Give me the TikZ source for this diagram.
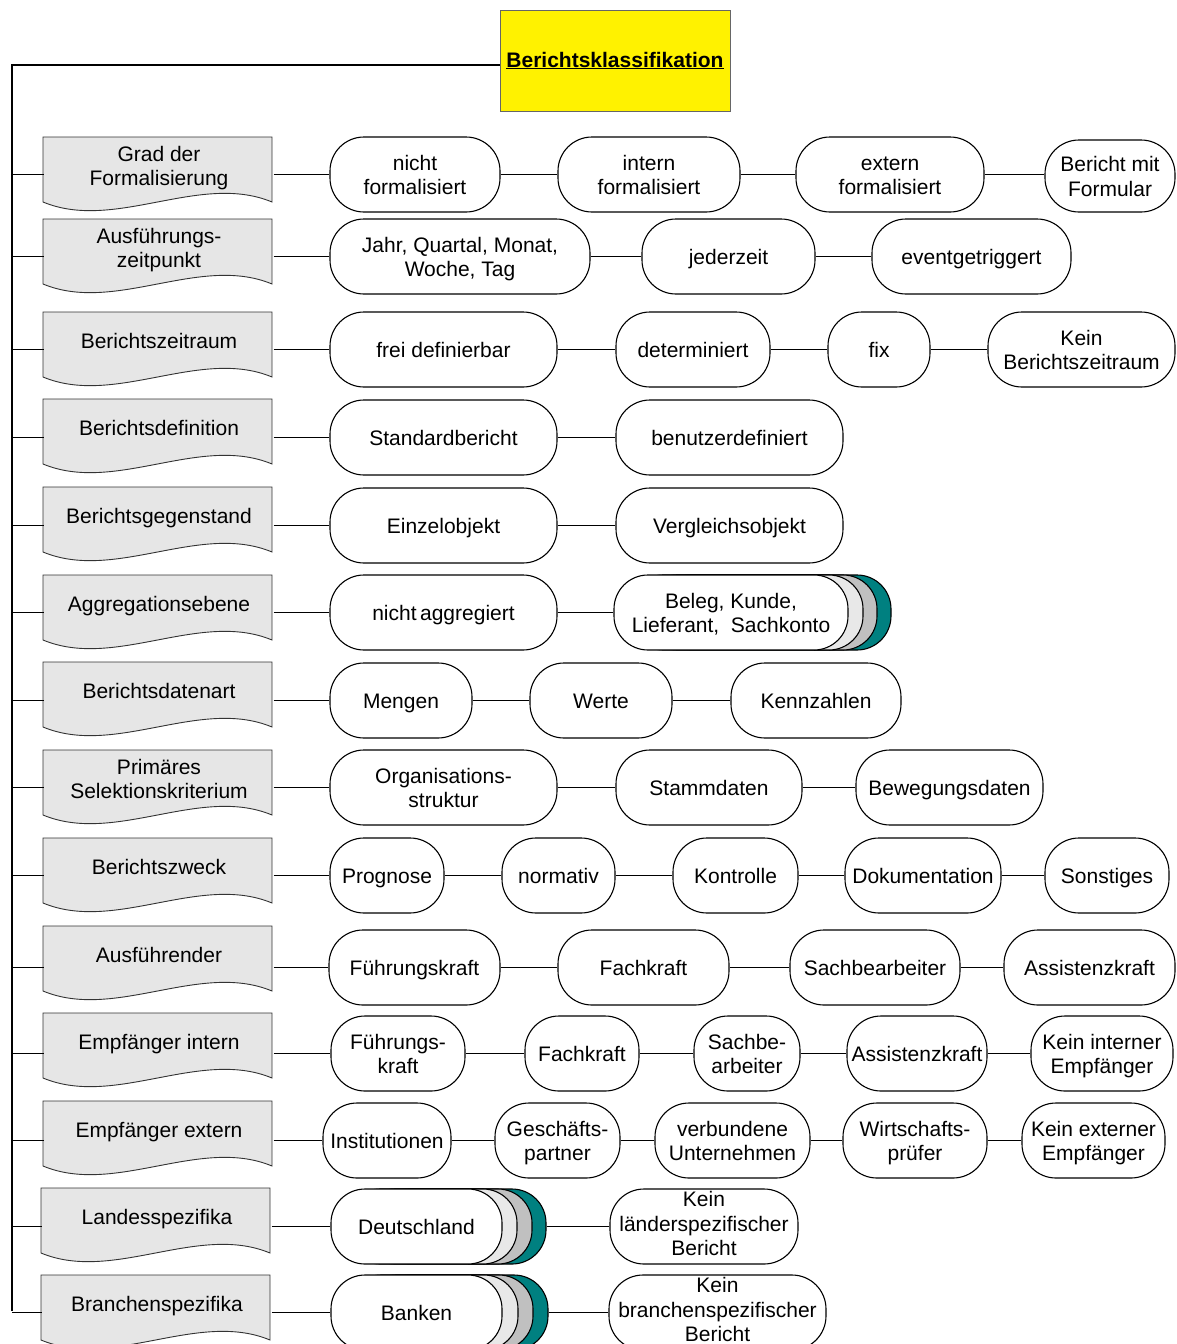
\documentclass[tikz,border=0pt]{standalone}
\usepackage{fontspec}
\setmainfont{Liberation Sans}
\definecolor{docgray}{RGB}{230,230,230}
\definecolor{lay1}{RGB}{232,232,232}
\definecolor{lay2}{RGB}{192,192,192}
\definecolor{lay3}{RGB}{0,128,128}
\tikzset{
  conn/.style={draw=black, line width=1.1pt},
  pill/.style={draw=black, fill=white, line width=1.1pt, rounded corners=34pt,
    minimum height=75pt, inner sep=0pt, align=center,
    font=\fontsize{21}{24.5}\selectfont},
  docstyle/.style={draw=black!80, fill=docgray, line width=0.9pt},
  doctext/.style={inner sep=0pt, minimum width=229pt, minimum height=56pt, align=center,
    font=\fontsize{21}{24.5}\selectfont},
  titlebox/.style={draw=black!60, fill=yellow, line width=0.9pt, minimum width=230pt,
    minimum height=101pt, inner sep=0pt, font=\fontsize{21}{24.5}\selectfont\bfseries}
}
\newcommand\topstrut{\rule[-7.35pt]{0pt}{30.5pt}}
\newcommand\mypill[5]{\node[pill, minimum width={#3-#2}] (#1) at ({(#2+#3)/2},#4) {\topstrut#5\strut};}
\newcommand\mytallpill[5]{\node[pill, minimum width={#3-#2}] (#1) at ({(#2+#3)/2},#4) {\strut#5\strut};}
\newcommand\mystack[8]{%
  \node[pill, fill=lay3, minimum width={#3-#2}] (#1-l3) at ({(#2+#3)/2+#7},#4) {};
  \node[pill, fill=lay2, minimum width={#3-#2}] (#1-l2) at ({(#2+#3)/2+#6},#4) {};
  \node[pill, fill=lay1, minimum width={#3-#2}] (#1-l1) at ({(#2+#3)/2+#5},#4) {};
  \node[pill, minimum width={#3-#2}] (#1) at ({(#2+#3)/2},#4) {\topstrut#8\strut};}
\newcommand\mydoc[4]{%
  \draw[docstyle] (#2,#3) -- ++(229,0) -- ++(0,65) .. controls +(-72,-30) and +(72,30) .. ({#2},{#3+65}) -- cycle;
  \node[doctext] (#1) at ({#2+116},{#3+31.5}) {\strut#4\strut};}
\begin{document}
\begin{tikzpicture}[x=1pt,y=-1pt]
\useasboundingbox (0,0) rectangle (1177,1344);
\node[titlebox] (title) at (615,60.5) {\raisebox{-2pt}{\underline{Berichtsklassifikation}}};
\coordinate (spinetop) at (12,65);
\coordinate (spinebot) at (12,1311);
\draw[conn] (spinetop -| title.west) -- (spinetop) -- (spinebot);

% Row 1
\mydoc{d1}{43}{137}{Grad der\\Formalisierung}
\mypill{r1a}{330}{500}{174.5}{nicht\\formalisiert}
\mypill{r1b}{558}{740}{174.5}{intern\\formalisiert}
\mypill{r1c}{796}{984}{174.5}{extern\\formalisiert}
\node[pill, minimum width=130pt, minimum height=72pt] (r1d) at (1110,176) {\topstrut Bericht mit\\Formular\strut};
\draw[conn] (spinetop |- r1a) -- (r1a -| d1.west);
\draw[conn] (d1.east |- r1a) -- (r1a);
\draw[conn] (r1a) -- (r1b);
\draw[conn] (r1b) -- (r1c);
\draw[conn] (r1c.east) -- (r1c.east -| r1d.west);

% Row 2
\mydoc{d2}{43}{219}{Ausführungs-\\zeitpunkt}
\mypill{r2a}{330}{590}{256.5}{Jahr, Quartal, Monat,\\Woche, Tag}
\mypill{r2b}{642}{815}{256.5}{jederzeit}
\mypill{r2c}{872}{1071}{256.5}{eventgetriggert}
\draw[conn] (spinetop |- r2a) -- (r2a -| d2.west);
\draw[conn] (d2.east |- r2a) -- (r2a);
\draw[conn] (r2a) -- (r2b);
\draw[conn] (r2b) -- (r2c);

% Row 3
\mydoc{d3}{43}{312}{Berichtszeitraum}
\mypill{r3a}{330}{557}{349.5}{frei definierbar}
\mypill{r3b}{616}{770}{349.5}{determiniert}
\mypill{r3c}{828}{930}{349.5}{fix}
\mypill{r3d}{988}{1175}{349.5}{Kein\\Berichtszeitraum}
\draw[conn] (spinetop |- r3a) -- (r3a -| d3.west);
\draw[conn] (d3.east |- r3a) -- (r3a);
\draw[conn] (r3a) -- (r3b);
\draw[conn] (r3b) -- (r3c);
\draw[conn] (r3c) -- (r3d);

% Row 4
\mydoc{d4}{43}{399}{Berichtsdefinition}
\mypill{r4a}{330}{557}{437.5}{Standardbericht}
\mypill{r4b}{616}{843}{437.5}{benutzerdefiniert}
\draw[conn] (spinetop |- r4a) -- (r4a -| d4.west);
\draw[conn] (d4.east |- r4a) -- (r4a);
\draw[conn] (r4a) -- (r4b);

% Row 5
\mydoc{d5}{43}{487}{Berichtsgegenstand}
\mypill{r5a}{330}{557}{525.5}{Einzelobjekt}
\mypill{r5b}{616}{843}{525.5}{Vergleichsobjekt}
\draw[conn] (spinetop |- r5a) -- (r5a -| d5.west);
\draw[conn] (d5.east |- r5a) -- (r5a);
\draw[conn] (r5a) -- (r5b);

% Row 6
\mydoc{d6}{43}{575}{Aggregationsebene}
\mypill{r6a}{330}{557}{612.5}{nicht\,aggregiert}
\mystack{r6b}{614}{848}{612.5}{15}{29}{43}{Beleg, Kunde,\\Lieferant,\ \ Sachkonto}
\draw[conn] (spinetop |- r6a) -- (r6a -| d6.west);
\draw[conn] (d6.east |- r6a) -- (r6a);
\draw[conn] (r6a) -- (r6b);

% Row 7
\mydoc{d7}{43}{662}{Berichtsdatenart}
\mypill{r7a}{330}{472}{700.5}{Mengen}
\mypill{r7b}{530}{672}{700.5}{Werte}
\mypill{r7c}{731}{901}{700.5}{Kennzahlen}
\draw[conn] (spinetop |- r7a) -- (r7a -| d7.west);
\draw[conn] (d7.east |- r7a) -- (r7a);
\draw[conn] (r7a) -- (r7b);
\draw[conn] (r7b) -- (r7c);

% Row 8
\mydoc{d8}{43}{750}{Primäres\\Selektionskriterium}
\mypill{r8a}{330}{557}{787.5}{Organisations-\\struktur}
\mypill{r8b}{616}{802}{787.5}{Stammdaten}
\mypill{r8c}{856}{1043}{787.5}{Bewegungsdaten}
\draw[conn] (spinetop |- r8a) -- (r8a -| d8.west);
\draw[conn] (d8.east |- r8a) -- (r8a);
\draw[conn] (r8a) -- (r8b);
\draw[conn] (r8b) -- (r8c);

% Row 9
\mydoc{d9}{43}{838}{Berichtszweck}
\mypill{r9a}{330}{444}{875.5}{Prognose}
\mypill{r9b}{502}{615}{875.5}{normativ}
\mypill{r9c}{673}{798}{875.5}{Kontrolle}
\mypill{r9d}{845}{1001}{875.5}{Dokumentation}
\mypill{r9e}{1045}{1169}{875.5}{Sonstiges}
\draw[conn] (spinetop |- r9a) -- (r9a -| d9.west);
\draw[conn] (d9.east |- r9a) -- (r9a);
\draw[conn] (r9a) -- (r9b);
\draw[conn] (r9b) -- (r9c);
\draw[conn] (r9c) -- (r9d);
\draw[conn] (r9d) -- (r9e);

% Row 10
\mydoc{d10}{43}{926}{Ausführender}
\mypill{r10a}{329}{500}{967.5}{Führungskraft}
\mypill{r10b}{558}{729}{967.5}{Fachkraft}
\mypill{r10c}{790}{960}{967.5}{Sachbearbeiter}
\mypill{r10d}{1004}{1175}{967.5}{Assistenzkraft}
\draw[conn] (spinetop |- r10a) -- (r10a -| d10.west);
\draw[conn] (d10.east |- r10a) -- (r10a);
\draw[conn] (r10a) -- (r10b);
\draw[conn] (r10b) -- (r10c);
\draw[conn] (r10c) -- (r10d);

% Row 11
\mydoc{d11}{43}{1013}{Empfänger intern}
\mypill{r11a}{331}{465}{1053.5}{Führungs-\\kraft}
\mypill{r11b}{525}{639}{1053.5}{Fachkraft}
\mypill{r11c}{694}{800}{1053.5}{Sachbe-\\arbeiter}
\mypill{r11d}{847}{987}{1053.5}{Assistenzkraft}
\mypill{r11e}{1031}{1173}{1053.5}{Kein interner\\Empfänger}
\draw[conn] (spinetop |- r11a) -- (r11a -| d11.west);
\draw[conn] (d11.east |- r11a) -- (r11a);
\draw[conn] (r11a) -- (r11b);
\draw[conn] (r11b) -- (r11c);
\draw[conn] (r11c) -- (r11d);
\draw[conn] (r11d) -- (r11e);

% Row 12
\mydoc{d12}{43}{1101}{Empfänger extern}
\mypill{r12a}{323}{451}{1140.5}{Institutionen}
\mypill{r12b}{495}{620}{1140.5}{Geschäfts-\\partner}
\mypill{r12c}{655}{810}{1140.5}{verbundene\\Unternehmen}
\mypill{r12d}{843}{987}{1140.5}{Wirtschafts-\\prüfer}
\mypill{r12e}{1022}{1165}{1140.5}{Kein externer\\Empfänger}
\draw[conn] (spinetop |- r12a) -- (r12a -| d12.west);
\draw[conn] (d12.east |- r12a) -- (r12a);
\draw[conn] (r12a) -- (r12b);
\draw[conn] (r12b) -- (r12c);
\draw[conn] (r12c) -- (r12d);
\draw[conn] (r12d) -- (r12e);

% Row 13
\mydoc{d13}{41}{1188}{Landesspezifika}
\mystack{r13a}{331}{502}{1226.5}{15}{30}{44}{Deutschland}
\mytallpill{r13b}{610}{798}{1226.5}{Kein\\länderspezifischer\\Bericht}
\draw[conn] (spinetop |- r13a) -- (r13a -| d13.west);
\draw[conn] (d13.east |- r13a) -- (r13a);
\draw[conn] (r13a-l3.east) -- (r13b.west);

% Row 14
\mydoc{d14}{41}{1275}{Branchenspezifika}
\mystack{r14a}{331}{502}{1312.5}{16}{31}{46}{Banken}
\mytallpill{r14b}{609}{826}{1312.5}{Kein\\branchenspezifischer\\Bericht}
\draw[conn] (spinetop |- r14a) -- (r14a -| d14.west);
\draw[conn] (d14.east |- r14a) -- (r14a);
\draw[conn] (r14a-l3.east) -- (r14b.west);
\end{tikzpicture}
\end{document}
